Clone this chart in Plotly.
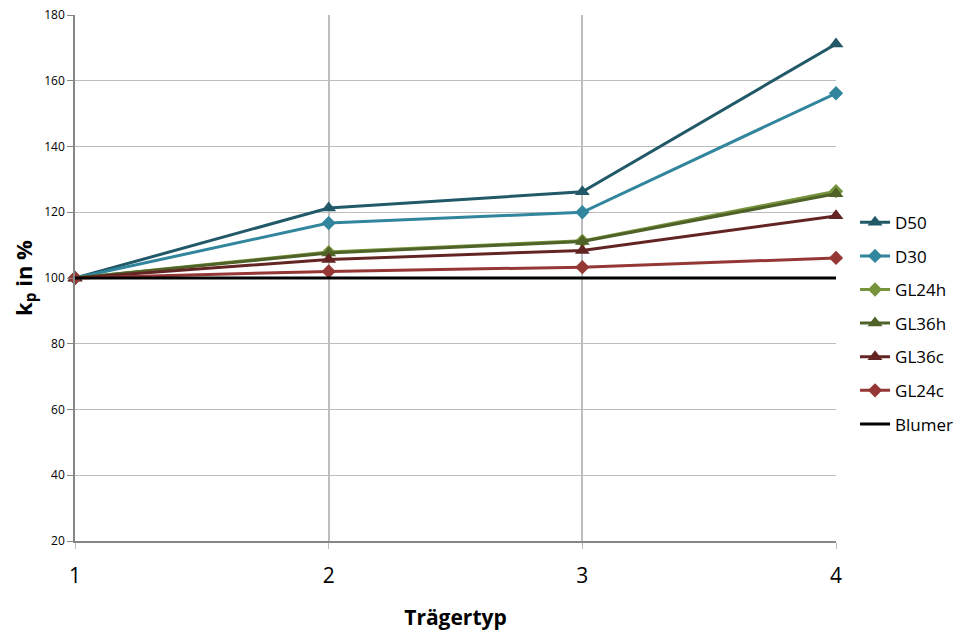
import plotly.graph_objects as go

traeger = [1, 2, 3, 4]
d50 = [100, 121.3, 126.2, 171.2]
d30 = [100, 116.7, 120.0, 156.2]
gl24h = [100, 107.9, 111.3, 126.4]
gl36h = [100, 107.6, 111.1, 125.6]
gl36c = [100, 105.6, 108.4, 118.9]
gl24c = [100, 102.0, 103.3, 106.1]
blumer = [100, 100, 100, 100]

series = [
    ("D50", d50, "#215968", "triangle-up"),
    ("D30", d30, "#31859c", "diamond"),
    ("GL24h", gl24h, "#77933c", "diamond"),
    ("GL36h", gl36h, "#4f6228", "triangle-up"),
    ("GL36c", gl36c, "#632523", "triangle-up"),
    ("GL24c", gl24c, "#953735", "diamond"),
]

fig = go.Figure()
for name, vals, color, sym in series:
    fig.add_trace(go.Scatter(
        x=traeger, y=vals, name=name, mode="lines+markers",
        line=dict(color=color, width=3),
        marker=dict(symbol=sym, size=11 if sym == "diamond" else 13, color=color),
        legendgroup=name, cliponaxis=False,
    ))
fig.add_trace(go.Scatter(
    x=traeger, y=blumer, name="Blumer", mode="lines",
    line=dict(color="#000000", width=3), legendgroup="Blumer",
))

font = "Open Sans, Liberation Sans, sans-serif"
fig.update_layout(
    width=958, height=632,
    margin=dict(l=75, r=122, t=15, b=91, autoexpand=False),
    paper_bgcolor="white", plot_bgcolor="white",
    font=dict(family=font, color="#000000"),
    showlegend=True,
    legend=dict(x=1.025, xanchor="left", y=0.414, yanchor="middle",
                font=dict(size=17, family=font), tracegroupgap=8.5,
                itemwidth=30, bgcolor="rgba(0,0,0,0)"),
    xaxis=dict(
        range=[1, 4], tickvals=[1, 2, 3, 4], ticktext=["1", "2", "3", "4"],
        showgrid=True, gridcolor="#bdbdbd", gridwidth=1.5,
        showline=True, linecolor="#868686", linewidth=1.5,
        ticks="outside", ticklen=6, tickcolor="#bdbdbd",
        ticklabelstandoff=9,
        tickfont=dict(size=21, family=font),
        zeroline=False, automargin=False,
        title=dict(text="<b>Trägertyp</b>", font=dict(size=21, family=font), standoff=22),
    ),
    yaxis=dict(
        range=[20, 180], tickvals=list(range(20, 181, 20)),
        showgrid=True, gridcolor="#bdbdbd", gridwidth=1.2,
        showline=True, linecolor="#868686", linewidth=1.5,
        ticks="outside", ticklen=6, tickcolor="#868686",
        tickfont=dict(size=12, family=font),
        zeroline=False, automargin=False,
        title=dict(text="<b>k<sub>p</sub> in %</b>", font=dict(size=22, family=font), standoff=6),
    ),
)

fig.write_html("out.html")
